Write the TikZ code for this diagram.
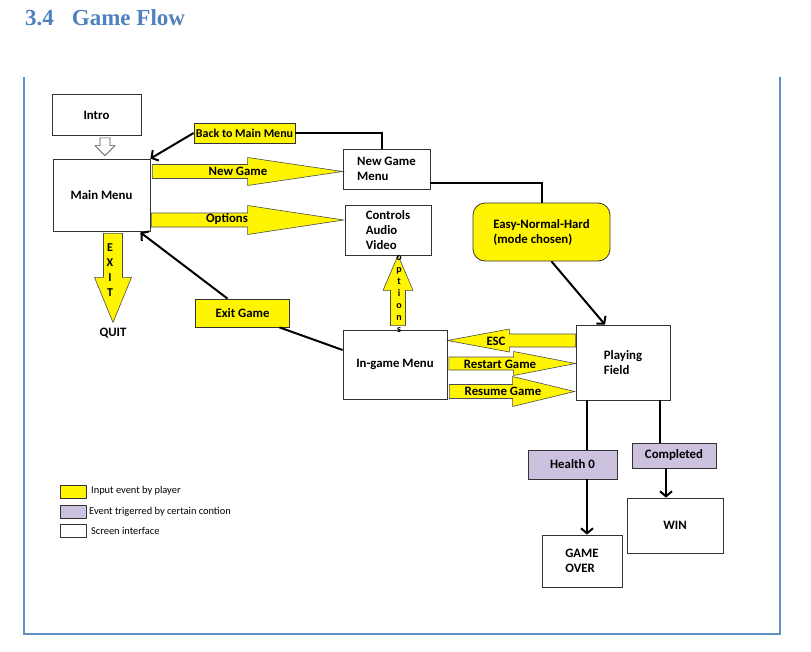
\documentclass[tikz,border=0pt]{standalone}
\usepackage{fontspec}
\setmainfont{Carlito}
\newfontfamily\headfont{Liberation Serif}
\usetikzlibrary{calc,arrows.meta}
\definecolor{evyellow}{RGB}{255,245,0}
\definecolor{evpurple}{RGB}{204,193,222}
\definecolor{headblue}{RGB}{79,129,189}
% fill, start, tip, shaft half width, head half width, head length
\newcommand{\blockarrow}[6]{%
  \coordinate (bh) at ($(#3)!#6!(#2)$);
  \filldraw[fill=#1, draw=black!70, line width=0.6pt] ($(#2)!#4!90:(#3)$) -- ($(bh)!#4!90:(#3)$) -- ($(bh)!#5!90:(#3)$) -- (#3) -- ($(bh)!#5!-90:(#3)$) -- ($(bh)!#4!-90:(#3)$) -- ($(#2)!#4!-90:(#3)$) -- cycle;}
\begin{document}
\begin{tikzpicture}[x=1pt,y=-1pt,
    screen/.style={draw=black!80, fill=white, line width=0.8pt, inner sep=0pt, font=\bfseries\fontsize{12.8}{15}\selectfont},
    input/.style={screen, fill=evyellow},
    event/.style={screen, fill=evpurple},
    lbl/.style={inner sep=0pt, font=\bfseries\fontsize{12.8}{15}\selectfont},
    keytext/.style={inner sep=0pt, anchor=west, font=\fontsize{10.4}{12}\selectfont},
    line/.style={line width=2pt},
    link/.style={line, -{Straight Barb[length=5pt,width=12pt]}}]
  \useasboundingbox (0,0) rectangle (811,651);
  \node[anchor=base west, inner sep=0pt, text=headblue, font={\headfont\bfseries\fontsize{23}{26}\selectfont}] (title) at (25,25) {3.4\hspace{18pt}Game Flow};
  \draw[headblue!90, line width=1.2pt] (24,77) -- (24,634) -- (780,634) -- (780,77);

  % screens
  \node[screen, minimum width=89, minimum height=41] (intro) at (96.5,115) {Intro};
  \node[screen, minimum width=97, minimum height=72] (main) at (101.5,195) {Main Menu};
  \node[screen, minimum width=87, minimum height=40, align=left] (newgame) at (386.5,169) {New Game\\Menu};
  \node[screen, minimum width=86, minimum height=50, align=left] (controls) at (388,230) {Controls\\Audio\\Video};
  \node[screen, minimum width=104, minimum height=69] (ingame) at (395,364.5) {In-game Menu};
  \node[screen, minimum width=94, minimum height=75, align=left] (play) at (623,362.5) {Playing\\Field};
  \node[screen, minimum width=80, minimum height=52, align=left] (over) at (582,561) {GAME\\OVER};
  \node[screen, minimum width=96, minimum height=55] (win) at (675,525.5) {WIN};
  \node[lbl] (quit) at (113,333) {QUIT};

  % player input and events
  \node[input, rounded corners=12pt, minimum width=137, minimum height=58, align=left] (mode) at (541.5,232) {Easy-Normal-Hard\\(mode chosen)};
  \node[input, minimum width=101, minimum height=20, font=\bfseries\fontsize{12}{14}\selectfont] (back) at (244.5,133) {Back to Main Menu};
  \node[input, minimum width=94, minimum height=28] (exitgame) at (242.5,313) {Exit Game};
  \node[event, minimum width=89, minimum height=29] (health) at (572.5,464.5) {Health 0};
  \node[event, minimum width=84, minimum height=25] (done) at (674,455.5) {Completed};

  % block arrows
  \coordinate (ia) at ($(intro.south)+(8.5,2)$);
  \coordinate (ib) at ($(main.north)+(3.5,-3)$);
  \coordinate (nt) at ($(newgame.west)+(0,2.5)$);
  \coordinate (ns) at ($(main.east |- nt)+(2,0)$);
  \coordinate (ot) at ($(controls.west)+(-1,-10)$);
  \coordinate (os) at ($(main.east |- ot)+(1,0)$);
  \coordinate (et) at ($(ingame.east)+(0,-24)$);
  \coordinate (es) at (play.west |- et);
  \coordinate (rs) at ($(ingame.east)+(1.5,-1)$);
  \coordinate (rt) at (play.west |- rs);
  \coordinate (ms) at ($(ingame.east)+(2,27)$);
  \coordinate (mt) at ($(play.west |- ms)+(-1,0)$);
  \coordinate (vs) at ($(ingame.north)+(3,-4)$);
  \coordinate (vt) at (controls.south -| vs);
  \coordinate (xs) at ($(main.south)+(11.5,2)$);
  \coordinate (xt) at ($(xs)+(0,89)$);
  \blockarrow{white}{ia}{ib}{5pt}{10pt}{10pt}
  \blockarrow{evyellow}{ns}{nt}{7pt}{14pt}{95pt}
  \blockarrow{evyellow}{os}{ot}{7pt}{14.5pt}{96pt}
  \blockarrow{evyellow}{es}{et}{6.5pt}{11.5pt}{62pt}
  \blockarrow{evyellow}{rs}{rt}{6.5pt}{12pt}{62pt}
  \blockarrow{evyellow}{ms}{mt}{7pt}{15pt}{62pt}
  \blockarrow{evyellow}{vs}{vt}{7.5pt}{15pt}{35pt}
  \blockarrow{evyellow}{xs}{xt}{9.5pt}{18.5pt}{45pt}
  \node[lbl] (lnew) at (238,171) {New Game};
  \node[lbl] (lopt) at (227,219) {Options};
  \node[lbl] (lesc) at (496,341) {ESC};
  \node[lbl] (lrestart) at (500,364) {Restart Game};
  \node[lbl] (lresume) at (503,391) {Resume Game};
  \node[lbl, align=center, font=\bfseries\fontsize{12}{15}\selectfont] (lexit) at (110,270) {E\\X\\I\\T};
  \node[lbl, align=center, font=\bfseries\fontsize{10}{12}\selectfont] (lopts) at (399,294) {o\\p\\t\\i\\o\\n\\s};

  % connectors
  \coordinate (hp) at ($(play.south)+(-36,0)$);
  \coordinate (dp) at ($(play.south)+(37,0)$);
  \coordinate (dw) at ($(done.south)+(-8,0)$);
  \draw[link] (back.west) -- (main.north east);
  \draw[line] (back.east) -| ($(newgame.north)+(-5,0)$);
  \draw[line] ($(newgame.east)+(0,13.5)$) -| (mode.north);
  \draw[link] ($(mode.south)+(10,0)$) -- ($(play.north)+(-18,0)$);
  \draw[link] ($(exitgame.north)+(-15,0)$) -- ($(main.south east)+(-10,1)$);
  \draw[line] ($(exitgame.south)+(37,0)$) -- ($(ingame.west)+(0,-14.5)$);
  \draw[line] (hp) -- (hp |- health.north);
  \draw[link] (hp |- health.south) -- (hp |- over.north);
  \draw[line] (dp) -- (dp |- done.north);
  \draw[link] (dw) -- (dw |- win.north);

  % legend
  \node[input, minimum width=26, minimum height=13] (keyin) at (73,491.5) {};
  \node[event, minimum width=26, minimum height=13] (keyev) at (73,511.5) {};
  \node[screen, minimum width=26, minimum height=13] (keysc) at (73,530.5) {};
  \node[keytext] (keyintxt) at (91,491) {Input event by player};
  \node[keytext] (keyevtxt) at (89,512) {Event trigerred by certain contion};
  \node[keytext] (keysctxt) at (91,531) {Screen interface};
\end{tikzpicture}
\end{document}
